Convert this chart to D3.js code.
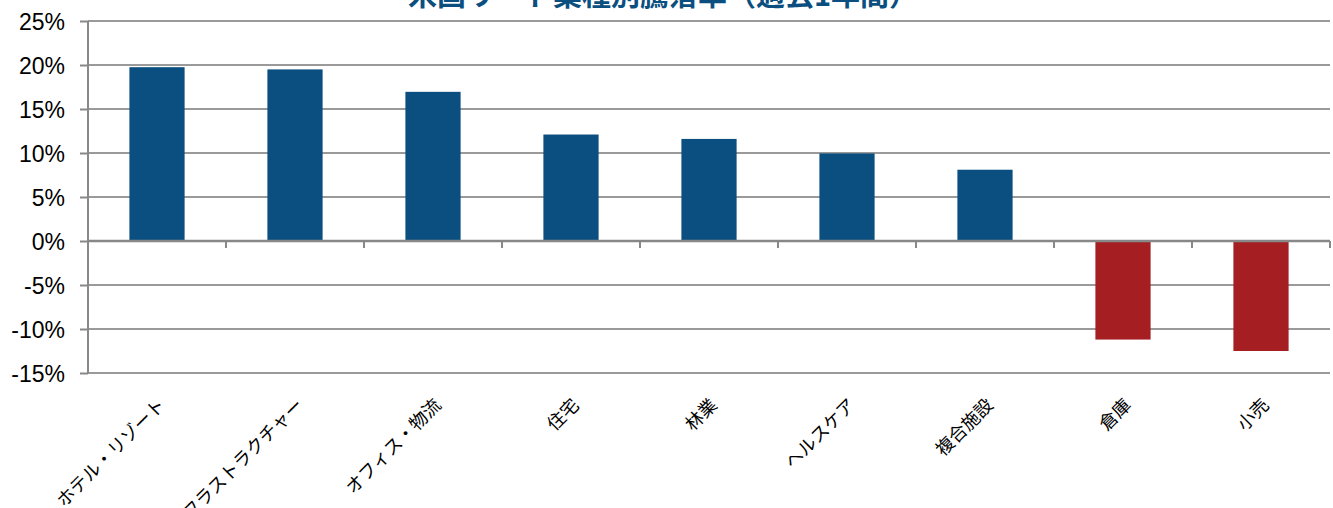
<!DOCTYPE html>
<meta charset="utf-8">
<script src="https://cdn.jsdelivr.net/npm/d3@7"></script>
<style>
body { margin: 0; background: #fff; }
.title { font-family: "Noto Sans CJK JP", sans-serif; font-weight: bold; font-size: 29px; fill: #0b4f80; }
.ylab { font-family: "Liberation Sans", Arial, sans-serif; font-size: 23px; fill: #000; }
.xlab { font-family: "Noto Sans CJK JP", sans-serif; font-size: 18px; fill: #000; }
</style>
<body>
<div id="chart"></div>
<script>
// 業種別騰落率（過去1年間）
var categories = ["ホテル・リゾート", "インフラストラクチャー", "オフィス・物流", "住宅", "林業", "ヘルスケア", "複合施設", "倉庫", "小売"];
var values = [19.75, 19.5, 16.95, 12.1, 11.6, 9.95, 8.1, -11.2, -12.5];
var yTicks = [25, 20, 15, 10, 5, 0, -5, -10, -15];

var width = 1333, height = 508;
var plotLeft = 88, plotRight = 1330, plotTop = 21, plotBottom = 373;

var svg = d3.select("#chart").append("svg")
    .attr("width", width)
    .attr("height", height);

var x = d3.scaleBand()
    .domain(categories)
    .range([plotLeft, plotRight])
    .paddingInner(0.6)
    .paddingOuter(0.3);

var y = d3.scaleLinear()
    .domain([-15, 25])
    .range([plotBottom, plotTop]);

// gridlines
svg.append("g")
  .selectAll("line")
  .data(yTicks.filter(function(d){ return d != 0; }))
  .enter().append("line")
    .attr("x1", plotLeft).attr("x2", plotRight)
    .attr("y1", function(d){ return y(d); })
    .attr("y2", function(d){ return y(d); })
    .attr("stroke", "#9a9a9a")
    .attr("stroke-width", 2);

// bars
svg.append("g")
  .selectAll("rect")
  .data(values)
  .enter().append("rect")
    .attr("x", function(d, i){ return x(categories[i]); })
    .attr("width", x.bandwidth())
    .attr("y", function(d){ return y(Math.max(0, d)); })
    .attr("height", function(d){ return Math.abs(y(d) - y(0)); })
    .attr("fill", function(d){ return d >= 0 ? "#0b4f80" : "#a51e22"; });

// y axis
var yAxis = d3.axisLeft(y)
    .tickValues(yTicks)
    .tickSize(8)
    .tickFormat(function(d){ return d + "%"; });
var gy = svg.append("g")
    .attr("transform", "translate(" + plotLeft + ",0)")
    .call(yAxis);
gy.attr("font-family", null).attr("font-size", null);
gy.select(".domain").attr("stroke", "#888").attr("stroke-width", 2)
  .attr("d", "M0," + plotTop + "V" + plotBottom);
gy.selectAll(".tick line").attr("stroke", "#888").attr("stroke-width", 2);
gy.selectAll(".tick text")
    .attr("class", "ylab")
    .attr("x", -23)
    .attr("dy", "0.36em");

// zero line with category boundary ticks
var bounds = categories.map(function(c){ return x(c) - x.step() * 0.3; }).concat([plotRight]);
svg.append("line")
    .attr("x1", plotLeft).attr("x2", plotRight)
    .attr("y1", y(0)).attr("y2", y(0))
    .attr("stroke", "#888").attr("stroke-width", 2.5);
svg.append("g")
  .selectAll("line")
  .data(bounds)
  .enter().append("line")
    .attr("x1", function(d){ return d; })
    .attr("x2", function(d){ return d; })
    .attr("y1", y(0)).attr("y2", y(0) + 7)
    .attr("stroke", "#888").attr("stroke-width", 2);

// category labels
svg.append("g")
  .selectAll("text")
  .data(categories)
  .enter().append("text")
    .attr("class", "xlab")
    .attr("text-anchor", "end")
    .attr("transform", function(d){
        return "translate(" + (x(d) + x.bandwidth() / 2 - 1) + "," + (plotBottom + 23) + ") rotate(-45)";
    })
    .attr("dy", "0.8em")
    .text(function(d){ return d; });

// title
svg.append("text")
    .attr("class", "title")
    .attr("x", 663)
    .attr("y", 6)
    .attr("text-anchor", "middle")
    .text("米国リート業種別騰落率（過去1年間）");
</script>
</body>
</html>
